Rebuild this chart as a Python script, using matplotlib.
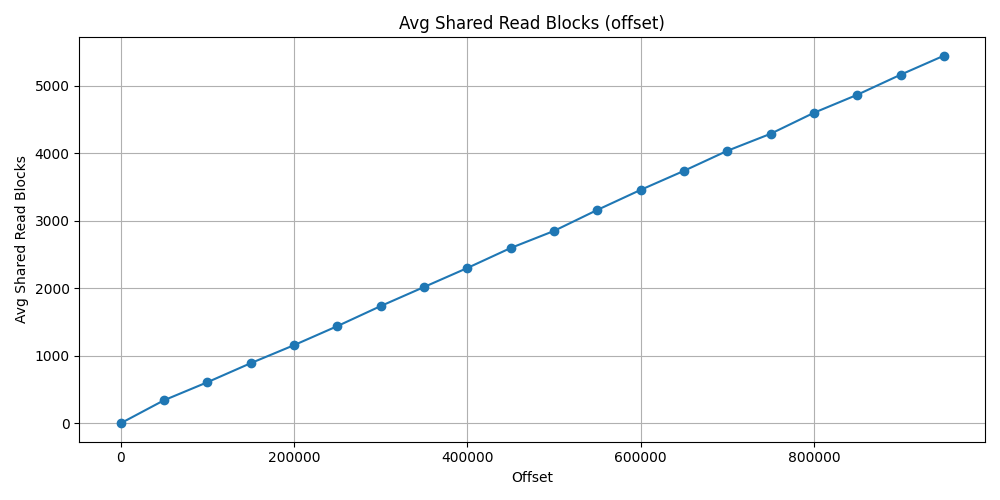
import matplotlib
matplotlib.use("Agg")
import matplotlib.pyplot as plt

offsets = [0, 50000, 100000, 150000, 200000, 250000, 300000, 350000, 400000, 450000,
           500000, 550000, 600000, 650000, 700000, 750000, 800000, 850000, 900000, 950000]
blocks = [0, 341, 608, 890, 1157, 1439, 1736, 2018, 2300, 2596,
          2849, 3160, 3457, 3739, 4036, 4288, 4599, 4866, 5163, 5445]

fig, ax = plt.subplots(figsize=(10, 5), dpi=100)
ax.plot(offsets, blocks, marker='o')
ax.set_title("Avg Shared Read Blocks (offset)")
ax.set_xlabel("Offset")
ax.set_ylabel("Avg Shared Read Blocks")
ax.grid(True)
fig.tight_layout()
fig.savefig("out.png")
